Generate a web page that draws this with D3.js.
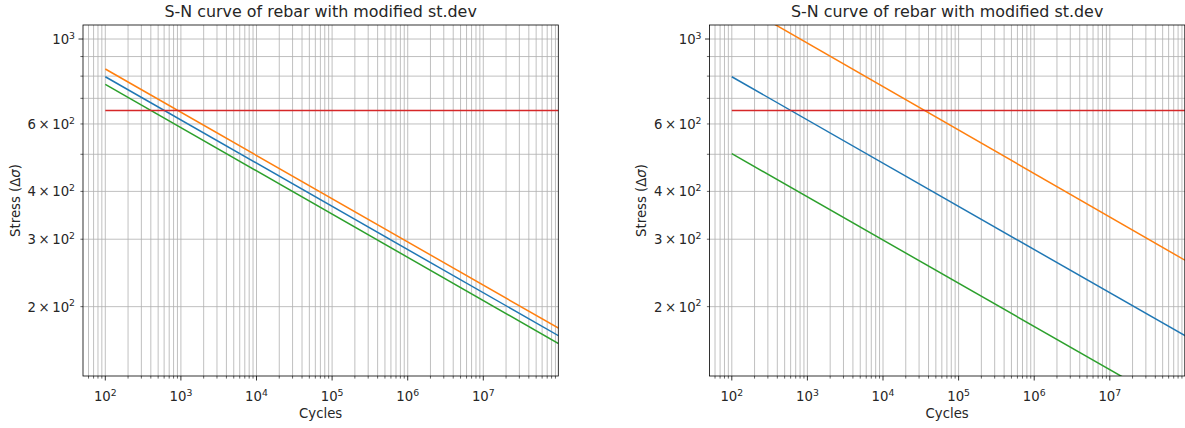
<!DOCTYPE html>
<html>
<head>
<meta charset="utf-8">
<script src="https://cdn.jsdelivr.net/npm/d3@7"></script>
<style>
  html, body { margin: 0; padding: 0; background: #fff; }
  svg { display: block; font-family: "DejaVu Sans", sans-serif; }
</style>
</head>
<body>
<div id="chart"></div>
<script>
// Values (cycles vs stress, both log scales)
const cycles = [1e2, 1e8];
const meanStress = [797, 167.7];
const leftUpperStress = [835, 175.5];
const leftLowerStress = [761, 160];
const rightUpperStress = [1267, 264];
const rightLowerStress = [502, 105.6];
const limitStress = [651, 651];

const xMajorTicks = [1e2, 1e3, 1e4, 1e5, 1e6, 1e7];
const xTickExponents = ["2", "3", "4", "5", "6", "7"];
const yTicks = [200, 300, 400, 600, 1000];
const yTickLabels = [["2\u2009×\u200910", "2"], ["3\u2009×\u200910", "2"], ["4\u2009×\u200910", "2"], ["6\u2009×\u200910", "2"], ["10", "3"]];

const titleText = "S-N curve of rebar with modified st.dev";

const colors = { mean: "#1f77b4", upper: "#ff7f0e", lower: "#2ca02c", limit: "#d62728" };

const fontSize = 13.25, supSize = 9.3, titleSize = 15.9;

const svg = d3.select("#chart").append("svg")
  .attr("width", 1185)
  .attr("height", 428);

function snPanel(config) {
  const { x0, x1, upper, lower, id } = config;
  const top = 25, bottom = 376;

  const xScale = d3.scaleLog().domain([Math.pow(10, 1.705), Math.pow(10, 7.992)]).range([x0, x1]);
  const yScale = d3.scaleLog().domain([131.8, 1088]).range([bottom, top]);

  const g = svg.append("g");

  // minor ticks
  const xMinor = [];
  for (let k = 1; k <= 7; k++) for (let m = 2; m <= 9; m++) {
    const v = m * Math.pow(10, k);
    if (v > xScale.domain()[0] && v < xScale.domain()[1]) xMinor.push(v);
  }
  const yMinor = [];
  for (let m = 2; m <= 9; m++) yMinor.push(m * 100);
  const yAll = yMinor.concat([1000]);

  // grid
  g.append("g").selectAll("line")
    .data(xMinor.concat(xMajorTicks))
    .enter().append("line")
    .attr("x1", d => xScale(d)).attr("x2", d => xScale(d))
    .attr("y1", top).attr("y2", bottom)
    .attr("stroke", "#b0b0b0").attr("stroke-width", 0.8);

  g.append("g").selectAll("line")
    .data(yAll)
    .enter().append("line")
    .attr("x1", x0).attr("x2", x1)
    .attr("y1", d => yScale(d)).attr("y2", d => yScale(d))
    .attr("stroke", "#b0b0b0").attr("stroke-width", 0.8);

  // clip for the data lines
  svg.append("clipPath").attr("id", id)
    .append("rect").attr("x", x0).attr("y", top).attr("width", x1 - x0).attr("height", bottom - top);

  const line = d3.line()
    .x(d => xScale(d[0]))
    .y(d => yScale(d[1]));

  const series = [
    { key: "mean", values: meanStress },
    { key: "upper", values: upper },
    { key: "lower", values: lower },
    { key: "limit", values: limitStress }
  ];

  g.append("g").attr("clip-path", `url(#${id})`)
    .selectAll("path")
    .data(series)
    .enter().append("path")
    .attr("d", d => line(cycles.map((c, i) => [c, d.values[i]])))
    .attr("fill", "none")
    .attr("stroke", d => colors[d.key])
    .attr("stroke-width", 1.5);

  // spines
  g.append("rect")
    .attr("x", x0).attr("y", top).attr("width", x1 - x0).attr("height", bottom - top)
    .attr("fill", "none").attr("stroke", "#000").attr("stroke-width", 0.8);

  // x ticks
  g.append("g").selectAll("line")
    .data(xMinor)
    .enter().append("line")
    .attr("x1", d => xScale(d)).attr("x2", d => xScale(d))
    .attr("y1", bottom).attr("y2", bottom + 2.6)
    .attr("stroke", "#000").attr("stroke-width", 0.6);

  g.append("g").selectAll("line")
    .data(xMajorTicks)
    .enter().append("line")
    .attr("x1", d => xScale(d)).attr("x2", d => xScale(d))
    .attr("y1", bottom).attr("y2", bottom + 4.5)
    .attr("stroke", "#000").attr("stroke-width", 0.8);

  const xLabels = g.append("g").selectAll("text")
    .data(xMajorTicks)
    .enter().append("text")
    .attr("x", d => xScale(d))
    .attr("y", 401)
    .attr("text-anchor", "middle")
    .attr("font-size", fontSize)
    .attr("fill", "#262626");
  xLabels.append("tspan").text("10");
  xLabels.append("tspan")
    .attr("dy", -5.2)
    .attr("font-size", supSize)
    .text((d, i) => xTickExponents[i]);

  // y ticks
  g.append("g").selectAll("line")
    .data(yAll)
    .enter().append("line")
    .attr("x1", x0).attr("x2", d => x0 - (d === 1000 ? 4.5 : 2.6))
    .attr("y1", d => yScale(d)).attr("y2", d => yScale(d))
    .attr("stroke", "#000").attr("stroke-width", d => d === 1000 ? 0.8 : 0.6);

  const yLabels = g.append("g").selectAll("text")
    .data(yTicks)
    .enter().append("text")
    .attr("x", x0 - 8)
    .attr("y", d => yScale(d) + 5)
    .attr("text-anchor", "end")
    .attr("font-size", fontSize)
    .attr("fill", "#262626");
  yLabels.append("tspan").text((d, i) => yTickLabels[i][0]);
  yLabels.append("tspan")
    .attr("dy", -5.2)
    .attr("font-size", supSize)
    .text((d, i) => yTickLabels[i][1]);

  // axis labels and title
  g.append("text")
    .attr("x", (x0 + x1) / 2)
    .attr("y", 418)
    .attr("text-anchor", "middle")
    .attr("font-size", fontSize)
    .attr("fill", "#262626")
    .text("Cycles");

  const yl = g.append("text")
    .attr("transform", `translate(${x0 - 63.5},${(top + bottom) / 2}) rotate(-90)`)
    .attr("text-anchor", "middle")
    .attr("font-size", fontSize)
    .attr("fill", "#262626");
  yl.append("tspan").text("Stress (Δ");
  yl.append("tspan").attr("font-style", "italic").text("σ");
  yl.append("tspan").text(")");

  g.append("text")
    .attr("x", (x0 + x1) / 2)
    .attr("y", 17.3)
    .attr("text-anchor", "middle")
    .attr("font-size", titleSize)
    .attr("fill", "#262626")
    .text(titleText);
}

snPanel({ x0: 83, x1: 558.3, upper: leftUpperStress, lower: leftLowerStress, id: "clipLeft" });
snPanel({ x0: 709.5, x1: 1184.8, upper: rightUpperStress, lower: rightLowerStress, id: "clipRight" });
</script>
</body>
</html>
